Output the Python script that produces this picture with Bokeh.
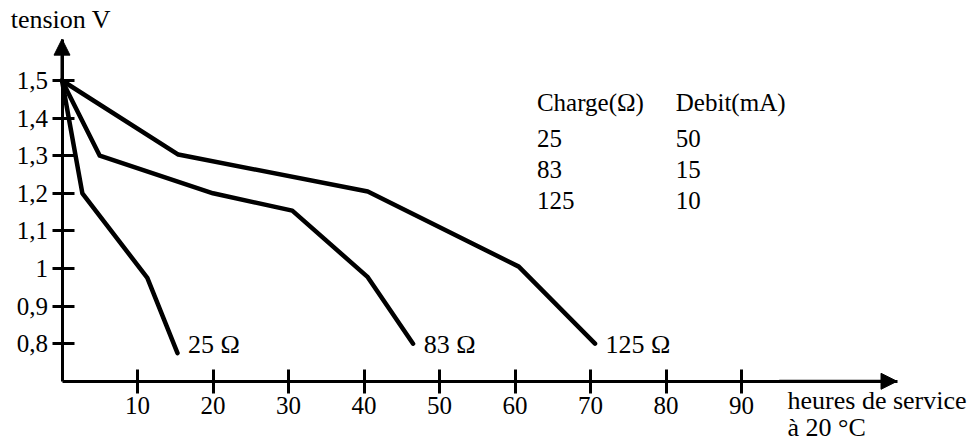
from bokeh.plotting import figure
from bokeh.models import Label, Arrow, NormalHead, FixedTicker, Range1d
from bokeh.embed import file_html
from bokeh.resources import INLINE

# --- data ---
hours_25 = [0, 2.7, 11.3, 15.3]
volts_25 = [1.5, 1.2, 0.975, 0.775]

hours_83 = [0, 5, 20, 30.5, 40.5, 46.5]
volts_83 = [1.5, 1.3, 1.2, 1.154, 0.977, 0.80]

hours_125 = [0, 15.4, 40.5, 60.5, 70.6]
volts_125 = [1.5, 1.303, 1.205, 1.005, 0.80]

curve_names = ["25 Ω", "83 Ω", "125 Ω"]

x_ticks = [10, 20, 30, 40, 50, 60, 70, 80, 90]
y_ticks = [0.8, 0.9, 1.0, 1.1, 1.2, 1.3, 1.4, 1.5]
y_tick_labels = ["0,8", "0,9", "1", "1,1", "1,2", "1,3", "1,4", "1,5"]

table_header = ["Charge(Ω)", "Debit(mA)"]
table_charge = ["25", "83", "125"]
table_debit = ["50", "15", "10"]

FONT = "Liberation Serif"
INK = "black"

# layout: x=0 at 61.5 px, 7.55 px per hour; y=1.5 at 80 px, 376 px per volt
W, H = 974, 444
PXX, PXY = 7.55, 376.0
x0 = -61.5 / PXX
y1 = 1.5 + 80 / PXY

p = figure(width=W, height=H, output_backend="svg", toolbar_location=None,
           x_range=Range1d(x0, x0 + W / PXX), y_range=Range1d(y1 - H / PXY, y1),
           min_border=0)
p.outline_line_color = None
p.grid.visible = False
p.background_fill_color = "white"
p.border_fill_color = "white"

for ax in (p.xaxis[0], p.yaxis[0]):
    ax.axis_line_width = 3
    ax.axis_line_color = INK
    ax.major_tick_line_width = 3
    ax.major_tick_line_color = INK
    ax.minor_tick_line_color = None
    ax.major_label_text_font = FONT
    ax.major_label_text_font_size = "25px"
    ax.major_label_text_color = INK

X_AXIS_Y = 0.7
X_AXIS_END = 110.6
Y_AXIS_END = 1.61

xa = p.xaxis[0]
xa.fixed_location = X_AXIS_Y
xa.bounds = (0, X_AXIS_END)
xa.ticker = FixedTicker(ticks=x_ticks)
xa.major_tick_in = 12
xa.major_tick_out = 12
xa.major_label_standoff = 4

ya = p.yaxis[0]
ya.fixed_location = 0
ya.bounds = (X_AXIS_Y, Y_AXIS_END)
ya.ticker = FixedTicker(ticks=y_ticks)
ya.major_label_overrides = {t: s for t, s in zip(y_ticks, y_tick_labels)}
ya.major_tick_in = 12
ya.major_tick_out = 10
ya.major_label_standoff = 4

# curves
for xs, ys in ((hours_25, volts_25), (hours_83, volts_83), (hours_125, volts_125)):
    p.line(xs, ys, line_width=4.5, line_color=INK, line_join="round", line_cap="round")

# axis arrows
p.add_layout(Arrow(x_start=0, y_start=1.5, x_end=0, y_end=Y_AXIS_END, line_width=3,
                   line_color=INK,
                   end=NormalHead(size=16, fill_color=INK, line_color=INK)))
p.add_layout(Arrow(x_start=95, y_start=X_AXIS_Y, x_end=X_AXIS_END, y_end=X_AXIS_Y,
                   line_width=3, line_color=INK,
                   end=NormalHead(size=16, fill_color=INK, line_color=INK)))

def lab(x, y, text, size="26px"):
    p.add_layout(Label(x=x, y=y, text=text, text_font=FONT, text_font_size=size,
                       text_color=INK, text_baseline="alphabetic", text_align="left"))

# axis titles
lab(-6.8, 1.662, "tension V")
lab(96.1, 0.6497, "heures de service")
lab(96.1, 0.5774, "à 20 °C")

# curve end labels
for xs, name in ((hours_25, curve_names[0]), (hours_83, curve_names[1]),
                 (hours_125, curve_names[2])):
    lab(xs[-1] + 1.4, 0.797, name, "26px")

# table
col_x = [62.9, 81.3]
row_y = [1.4416, 1.346, 1.2634, 1.181]
lab(col_x[0], row_y[0], table_header[0], "25px")
lab(col_x[1], row_y[0], table_header[1], "25px")
for i in range(3):
    lab(col_x[0], row_y[i + 1], table_charge[i], "25px")
    lab(col_x[1], row_y[i + 1], table_debit[i], "25px")

open("out.html", "w").write(file_html(p, INLINE))
